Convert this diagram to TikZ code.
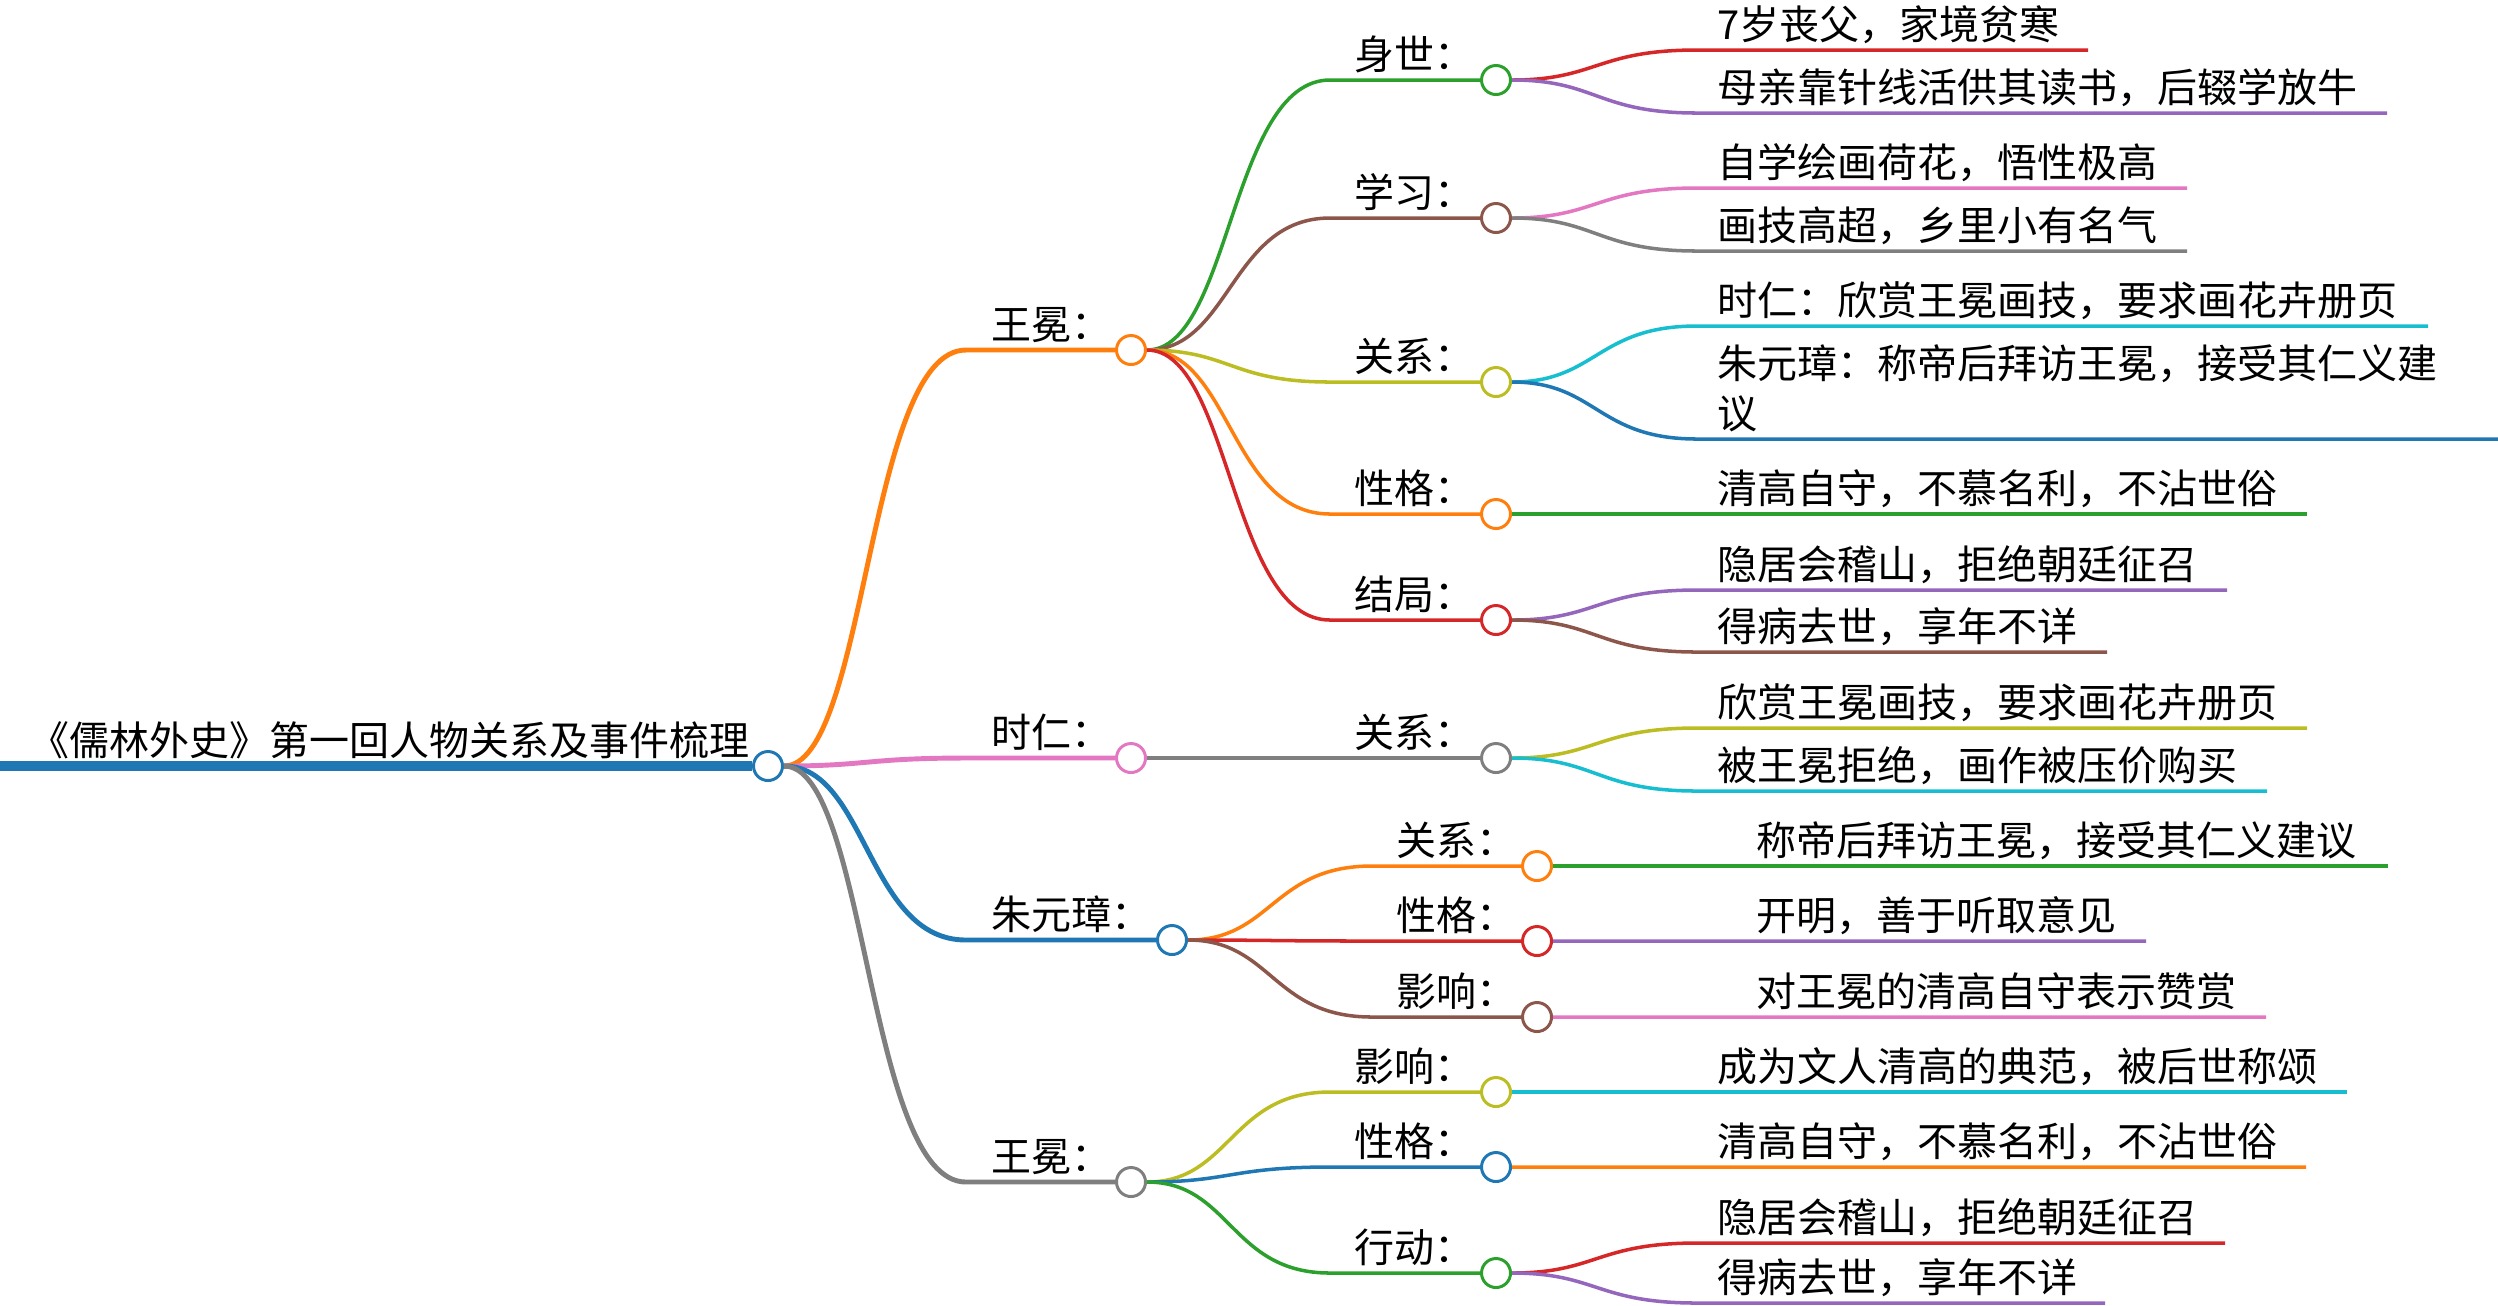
\documentclass[tikz,border=0pt]{standalone}
\usepackage{fontspec}
\setmainfont{Noto Sans CJK SC}
\usetikzlibrary{calc}

\definecolor{cblue}{HTML}{1F77B4}
\definecolor{corange}{HTML}{FF7F0E}
\definecolor{cgreen}{HTML}{2CA02C}
\definecolor{cred}{HTML}{D62728}
\definecolor{cpurple}{HTML}{9467BD}
\definecolor{cbrown}{HTML}{8C564B}
\definecolor{cpink}{HTML}{E377C2}
\definecolor{cgray}{HTML}{7F7F7F}
\definecolor{colive}{HTML}{BCBD22}
\definecolor{ccyan}{HTML}{17BECF}

\tikzset{
    knob/.style={circle, draw=#1, fill=white, line width=0.85pt, minimum size=2.9mm, inner sep=0pt},
    lbl/.style={anchor=base west, inner sep=0pt, font=\fontsize{11.38pt}{14.23pt}\selectfont},
    branch/.style={to path={.. controls ($(\tikztostart -| \tikztotarget)!0.5!(\tikztostart)$) and ($(\tikztotarget -| \tikztostart)!0.5!(\tikztotarget)$) .. (\tikztotarget)}},
}

\begin{document}
\begin{tikzpicture}[x=0.1mm, y=-0.1mm]
    \useasboundingbox (0,0) rectangle (2498,1305);

    % Root
    \coordinate (root-in) at (0,766);
    \node[knob=cblue] (root) at (768,766) {};
    \node[lbl, anchor=base east] (root-t) at (750,755) {《儒林外史》第一回人物关系及事件梳理};
    \draw[line width=2.8pt, cblue] (root-in) -- (root);

    % Characters
    \foreach \n/\x/\cx/\y/\c/\t in {wang/966/1131/350/corange/王冕：,
                                    shi/966/1131/758/cpink/时仁：,
                                    zhu/966/1172/940/cblue/朱元璋：,
                                    wangb/966/1131/1182/cgray/王冕：} {
        \coordinate (\n-in) at (\x,\y);
        \node[knob=\c] (\n) at (\cx,\y) {};
        \node[lbl] (\n-t) at (\x+25,\y-11) {\t};
        \draw[line width=1.4pt, \c] (root) to[branch] (\n-in) -- (\n);
    }

    % Aspects
    \foreach \n/\p/\x/\cx/\y/\c/\t in {wangA/wang/1330/1496/80/cgreen/身世：,
                                       wangB/wang/1330/1496/218/cbrown/学习：,
                                       wangC/wang/1330/1496/382/colive/关系：,
                                       wangD/wang/1330/1496/514/corange/性格：,
                                       wangE/wang/1330/1496/620/cred/结局：,
                                       shiA/shi/1330/1496/758/cgray/关系：,
                                       zhuA/zhu/1372/1537/866/corange/关系：,
                                       zhuB/zhu/1372/1537/941/cred/性格：,
                                       zhuC/zhu/1372/1537/1017/cbrown/影响：,
                                       wangbA/wangb/1330/1496/1092/colive/影响：,
                                       wangbB/wangb/1330/1496/1167/cblue/性格：,
                                       wangbC/wangb/1330/1496/1273/cgreen/行动：} {
        \coordinate (\n-in) at (\x,\y);
        \node[knob=\c] (\n) at (\cx,\y) {};
        \node[lbl] (\n-t) at (\x+24,\y-11) {\t};
        \draw[line width=1pt, \c] (\p) to[branch] (\n-in) -- (\n);
    }

    % Details
    \foreach \n/\p/\x/\y/\e/\c/\t in {wangA1/wangA/1697/50/2088/cred/7岁丧父，家境贫寒,
                                      wangA2/wangA/1697/113/2387/cpurple/母亲靠针线活供其读书，后辍学放牛,
                                      wangB1/wangB/1697/188/2187/cpink/自学绘画荷花，悟性极高,
                                      wangB2/wangB/1697/251/2187/cgray/画技高超，乡里小有名气,
                                      wangC1/wangC/1697/326/2428/ccyan/时仁：欣赏王冕画技，要求画花卉册页,
                                      wangD1/wangD/1697/514/2307/cgreen/清高自守，不慕名利，不沾世俗,
                                      wangE1/wangE/1697/590/2227/cpurple/隐居会稽山，拒绝朝廷征召,
                                      wangE2/wangE/1697/652/2107/cbrown/得病去世，享年不详,
                                      shiA1/shiA/1697/728/2307/colive/欣赏王冕画技，要求画花卉册页,
                                      shiA2/shiA/1697/791/2267/ccyan/被王冕拒绝，画作被压价购买,
                                      zhuA1/zhuA/1736/866/2388/cgreen/称帝后拜访王冕，接受其仁义建议,
                                      zhuB1/zhuB/1736/941/2146/cpurple/开明，善于听取意见,
                                      zhuC1/zhuC/1736/1017/2266/cpink/对王冕的清高自守表示赞赏,
                                      wangbA1/wangbA/1697/1092/2347/ccyan/成为文人清高的典范，被后世称颂,
                                      wangbB1/wangbB/1697/1167/2306/corange/清高自守，不慕名利，不沾世俗,
                                      wangbC1/wangbC/1697/1243/2225/cred/隐居会稽山，拒绝朝廷征召,
                                      wangbC2/wangbC/1697/1303/2105/cpurple/得病去世，享年不详} {
        \coordinate (\n-in) at (\x,\y);
        \coordinate (\n-out) at (\e,\y);
        \node[lbl] (\n) at (\x+20,\y-11) {\t};
        \draw[line width=1pt, \c] (\p) to[branch] (\n-in) -- (\n-out);
    }

    % Wrapped detail
    \coordinate (wangC2-in) at (1697,439);
    \coordinate (wangC2-out) at (2498,439);
    \node[lbl, align=left] (wangC2) at (1717,428) {朱元璋：称帝后拜访王冕，接受其仁义建\\议};
    \draw[line width=1pt, cblue] (wangC) to[branch] (wangC2-in) -- (wangC2-out);
\end{tikzpicture}
\end{document}
